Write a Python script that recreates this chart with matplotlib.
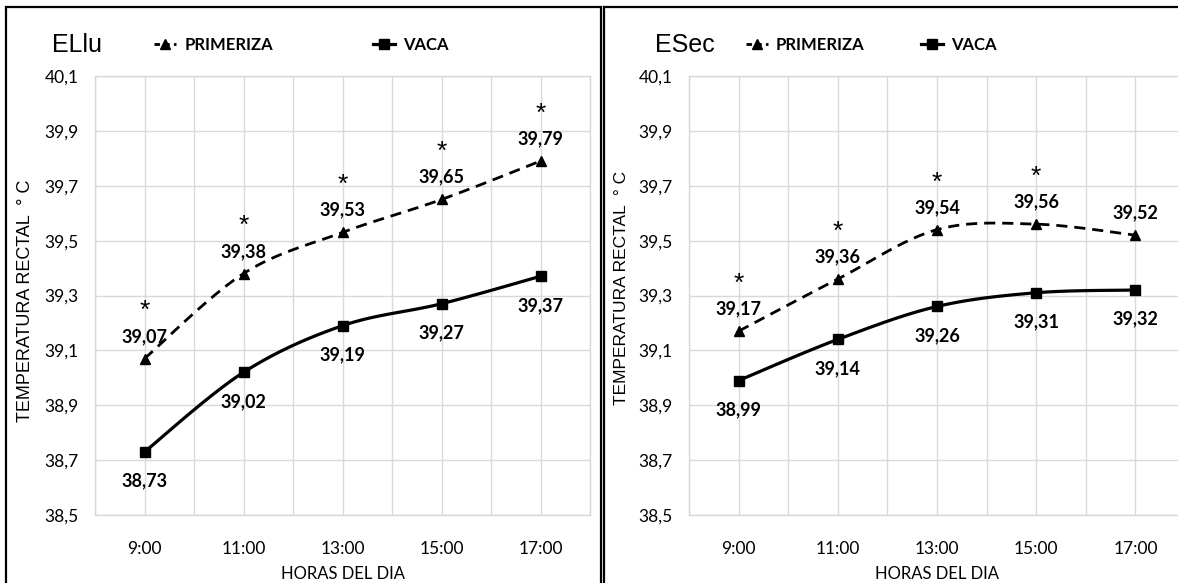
import numpy as np
import matplotlib
matplotlib.use('Agg')
import matplotlib.pyplot as plt
from matplotlib.ticker import MultipleLocator, FixedLocator, FuncFormatter
from matplotlib.lines import Line2D
from matplotlib.patches import Rectangle

horas = [9, 11, 13, 15, 17]
hora_labels = ['9:00', '11:00', '13:00', '15:00', '17:00']
y_ticks = [38.5, 38.7, 38.9, 39.1, 39.3, 39.5, 39.7, 39.9, 40.1]

# epoca lluviosa
ellu_primeriza = [39.07, 39.38, 39.53, 39.65, 39.79]
ellu_vaca = [38.73, 39.02, 39.19, 39.27, 39.37]
ellu_signif = [True, True, True, True, True]

# epoca seca
esec_primeriza = [39.17, 39.36, 39.54, 39.56, 39.52]
esec_vaca = [38.99, 39.14, 39.26, 39.31, 39.32]
esec_signif = [True, True, True, True, False]

NARROW = ['Lato', 'DejaVu Sans']
ARIAL = ['Liberation Sans', 'DejaVu Sans']
W, H = 1178, 583


def smooth(x, y, n=30):
    # bezier smoothing like the spreadsheet "smoothed line"
    pts = np.column_stack([np.asarray(x, float), np.asarray(y, float)])
    out = []
    t = np.linspace(0, 1, n)[:, None]
    for i in range(len(pts) - 1):
        p0 = pts[max(i - 1, 0)]
        p1 = pts[i]
        p2 = pts[i + 1]
        p3 = pts[min(i + 2, len(pts) - 1)]
        c1 = p1 + (p2 - p0) / 6
        c2 = p2 - (p3 - p1) / 6
        seg = (1 - t) ** 3 * p1 + 3 * (1 - t) ** 2 * t * c1 + 3 * (1 - t) * t ** 2 * c2 + t ** 3 * p2
        out.append(seg if i == 0 else seg[1:])
    seg = np.vstack(out)
    return seg[:, 0], seg[:, 1]


def comma(v, pos=None):
    return f"{v:.1f}".replace('.', ',')


def draw_panel(ax, prim, vaca, signif, leg_x, colspacing):
    dash = (0, (4, 2.5))
    xs, ys = smooth(horas, prim)
    ax.plot(xs, ys, color='black', lw=2, ls=dash, zorder=3)
    ax.plot(horas, prim, ls='none', marker='^', color='black', ms=7.5, zorder=4)
    xs, ys = smooth(horas, vaca)
    ax.plot(xs, ys, color='black', lw=2.3, zorder=3)
    ax.plot(horas, vaca, ls='none', marker='s', color='black', ms=6.5, zorder=4)

    for h, v, s in zip(horas, prim, signif):
        ax.annotate(f"{v:.2f}".replace('.', ','), (h, v), xytext=(0, 16),
                    textcoords='offset points', ha='center', va='center',
                    fontsize=13, fontweight='bold', family=NARROW)
        if s:
            ax.annotate('*', (h, v), xytext=(0, 29), textcoords='offset points',
                        ha='center', va='baseline', fontsize=19, family=ARIAL)
    for h, v in zip(horas, vaca):
        ax.annotate(f"{v:.2f}".replace('.', ','), (h, v), xytext=(0, -21),
                    textcoords='offset points', ha='center', va='center',
                    fontsize=13, fontweight='bold', family=NARROW)

    ax.set_xlim(8, 18)
    ax.set_ylim(38.5, 40.1)
    ax.xaxis.set_major_locator(FixedLocator(horas))
    ax.set_xticklabels(hora_labels)
    ax.xaxis.set_minor_locator(MultipleLocator(1))
    ax.yaxis.set_major_locator(FixedLocator(y_ticks))
    ax.yaxis.set_major_formatter(FuncFormatter(comma))
    ax.grid(True, which='both', axis='x', color='#d9d9d9', lw=1)
    ax.grid(True, which='major', axis='y', color='#d9d9d9', lw=1)
    ax.tick_params(which='both', length=0)
    ax.tick_params(axis='x', pad=19)
    ax.tick_params(axis='y', pad=12)
    for lab in ax.get_xticklabels() + ax.get_yticklabels():
        lab.set_fontfamily(NARROW)
        lab.set_fontsize(12.5)
    for sp in ax.spines.values():
        sp.set_color('#d9d9d9')
        sp.set_linewidth(1)

    ax.text(0.5, -0.135, 'HORAS DEL DIA', transform=ax.transAxes, ha='center',
            va='center', fontsize=12, family=NARROW)

    handles = [
        Line2D([], [], color='black', lw=2, ls=(0, (2, 1.5)), marker='^', ms=7.5),
        Line2D([], [], color='black', lw=2.3, marker='s', ms=6.5),
    ]
    ax.legend(handles, ['PRIMERIZA', 'VACA'], loc='center left',
              bbox_to_anchor=(leg_x, 1.07), ncol=2, frameon=False,
              prop={'family': NARROW, 'weight': 'bold', 'size': 12},
              handlelength=1.3, handletextpad=0.5, columnspacing=colspacing,
              borderpad=0, borderaxespad=0)


fig = plt.figure(figsize=(W / 100, H / 100), dpi=100)

ax1 = fig.add_axes([95 / W, 1 - 515 / H, 495 / W, 439 / H])
draw_panel(ax1, ellu_primeriza, ellu_vaca, ellu_signif, 0.12, 6.0)

ax2 = fig.add_axes([689 / W, 1 - 515 / H, 496 / W, 439 / H])
draw_panel(ax2, esec_primeriza, esec_vaca, esec_signif, 0.115, 3.4)

fig.text(52 / W, 1 - 45 / H, 'ELlu', fontsize=18, family=ARIAL, va='center')
fig.text(655 / W, 1 - 45 / H, 'ESec', fontsize=18, family=ARIAL, va='center')

fig.text(26 / W, 1 - 301 / H, 'TEMPERATURA RECTAL  ° C', rotation=90,
         ha='center', va='center', fontsize=13, family=ARIAL)
fig.text(621 / W, 1 - 288 / H, 'TEMPERATURA RECTAL  ° C', rotation=90,
         ha='center', va='center', fontsize=12.5, family=ARIAL)

# panel frames
fig.add_artist(Rectangle((6 / W, -0.05), 595 / W, 1.05 - 7 / H, transform=fig.transFigure,
                         fill=False, ec='black', lw=1.6))
fig.add_artist(Rectangle((604 / W, -0.05), 600 / W, 1.05 - 7 / H, transform=fig.transFigure,
                         fill=False, ec='black', lw=1.6))

fig.savefig('out.png', dpi=100)
